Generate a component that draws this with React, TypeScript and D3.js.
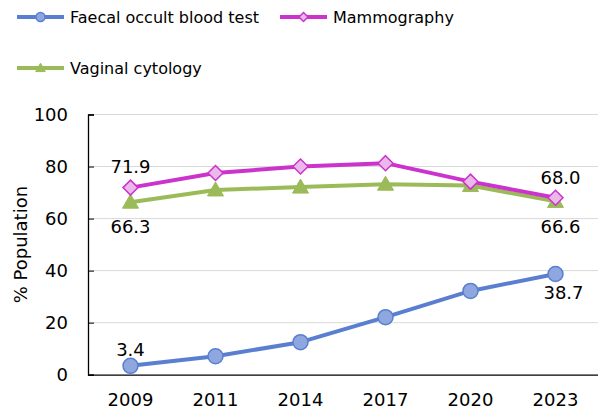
import React, { useEffect, useRef } from "react";
import * as d3 from "d3";

const years = ["2009", "2011", "2014", "2017", "2020", "2023"];
const faecal = [3.4, 7.1, 12.5, 22.1, 32.2, 38.7];
const mammo = [71.9, 77.5, 80.0, 81.3, 74.2, 68.0];
const vaginal = [66.3, 71.0, 72.1, 73.2, 72.7, 66.6];
const yTicks = [0, 20, 40, 60, 80, 100];

const FONT = "'DejaVu Sans', Verdana, sans-serif";

const App = () => {
  const ref = useRef(null);

  useEffect(() => {
    const svg = d3.select(ref.current);
    svg.selectAll("*").remove();

    const width = 598;
    const height = 410;
    const left = 88;
    const right = 598;
    const top = 114.5;
    const bottom = 374.7;

    const x = d3.scaleBand().domain(years).range([left, right]);
    const xc = (yr) => x(yr) + x.bandwidth() / 2;
    const y = d3.scaleLinear().domain([0, 100]).range([bottom, top]);

    svg.attr("width", width).attr("height", height);

    // gridlines
    svg.append("g")
      .selectAll("line")
      .data(yTicks.filter((t) => t > 0))
      .join("line")
      .attr("x1", left)
      .attr("x2", right)
      .attr("y1", (d) => y(d))
      .attr("y2", (d) => y(d))
      .attr("stroke", "#d9d9d9")
      .attr("stroke-width", 1);

    // y axis
    const yAxis = svg.append("g").attr("transform", `translate(${left},0)`)
      .call(d3.axisLeft(y).tickValues(yTicks).tickSize(-6).tickPadding(20));
    yAxis.select(".domain").attr("stroke", "#000").attr("stroke-width", 1.3);
    yAxis.selectAll(".tick line").attr("stroke", "#000");
    yAxis.selectAll("text").attr("font-family", FONT).attr("font-size", 18).attr("fill", "#000");

    // x axis
    const xAxis = svg.append("g").attr("transform", `translate(0,${bottom})`)
      .call(d3.axisBottom(x).tickSize(0).tickPadding(19));
    xAxis.select(".domain").attr("stroke", "#000").attr("stroke-width", 1.3);
    xAxis.selectAll("text").attr("font-family", FONT).attr("font-size", 18).attr("fill", "#000");

    svg.append("text")
      .attr("transform", `translate(20,${(top + bottom) / 2}) rotate(-90)`)
      .attr("text-anchor", "middle")
      .attr("dominant-baseline", "central")
      .attr("font-family", FONT)
      .attr("font-size", 18)
      .text("% Population");

    const series = [
      { name: "Vaginal cytology", values: vaginal, color: "#9bbb59", fill: "#9bbb59", marker: "tri" },
      { name: "Mammography", values: mammo, color: "#cc33cc", fill: "#eab9ea", marker: "diamond" },
      { name: "Faecal occult blood test", values: faecal, color: "#5a7fd1", fill: "#8ea7df", marker: "circle" },
    ];

    const drawMarker = (g, type, cx, cy, s, k = 1) => {
      if (type === "circle") {
        g.append("circle").attr("cx", cx).attr("cy", cy).attr("r", 7.5 * k)
          .attr("fill", s.fill).attr("stroke", s.color).attr("stroke-width", 1.5);
      } else if (type === "diamond") {
        const r = 7.5 * k;
        g.append("path")
          .attr("d", `M${cx},${cy - r}L${cx + r},${cy}L${cx},${cy + r}L${cx - r},${cy}Z`)
          .attr("fill", s.fill).attr("stroke", s.color).attr("stroke-width", 1.5);
      } else {
        const r = 8 * k;
        g.append("path")
          .attr("d", `M${cx},${cy - r}L${cx + r},${cy + r * 0.75}L${cx - r},${cy + r * 0.75}Z`)
          .attr("fill", s.fill).attr("stroke", s.color).attr("stroke-width", 1);
      }
    };

    const line = d3.line().x((d, i) => xc(years[i])).y((d) => y(d));

    series.forEach((s) => {
      const g = svg.append("g");
      g.append("path")
        .datum(s.values)
        .attr("d", line)
        .attr("fill", "none")
        .attr("stroke", s.color)
        .attr("stroke-width", 4)
        .attr("stroke-linejoin", "round");
      s.values.forEach((v, i) => drawMarker(g, s.marker, xc(years[i]), y(v), s));
    });

    // data labels
    const labels = [
      { yr: "2009", v: faecal[0], dx: 0, dy: -16.6 },
      { yr: "2009", v: mammo[0], dx: 0, dy: -21 },
      { yr: "2009", v: vaginal[0], dx: 0, dy: 24.5 },
      { yr: "2023", v: mammo[5], dx: 5, dy: -20.5 },
      { yr: "2023", v: vaginal[5], dx: 5, dy: 24.6 },
      { yr: "2023", v: faecal[5], dx: 8, dy: 18.7 },
    ];
    svg.append("g")
      .selectAll("text")
      .data(labels)
      .join("text")
      .attr("x", (d) => xc(d.yr) + d.dx)
      .attr("y", (d) => y(d.v) + d.dy)
      .attr("text-anchor", "middle")
      .attr("dominant-baseline", "central")
      .attr("font-family", FONT)
      .attr("font-size", 18)
      .text((d) => d.v.toFixed(1));

    // legend
    const legendItems = [
      { s: series[2], x: 17, y: 17 },
      { s: series[1], x: 280, y: 17 },
      { s: series[0], x: 17, y: 68 },
    ];
    legendItems.forEach(({ s, x: lx, y: ly }) => {
      const g = svg.append("g");
      g.append("line")
        .attr("x1", lx).attr("x2", lx + 47).attr("y1", ly).attr("y2", ly)
        .attr("stroke", s.color).attr("stroke-width", 4);
      drawMarker(g, s.marker, lx + 23.5, ly, s, 0.6);
      g.append("text")
        .attr("x", lx + 53)
        .attr("y", ly)
        .attr("dominant-baseline", "central")
        .attr("font-family", FONT)
        .attr("font-size", 16)
        .text(s.name);
    });
  }, []);

  return (
    <div style={{ position: "absolute", left: 0, top: 0 }}>
      <svg ref={ref} style={{ display: "block" }}></svg>
    </div>
  );
};

export default App;
